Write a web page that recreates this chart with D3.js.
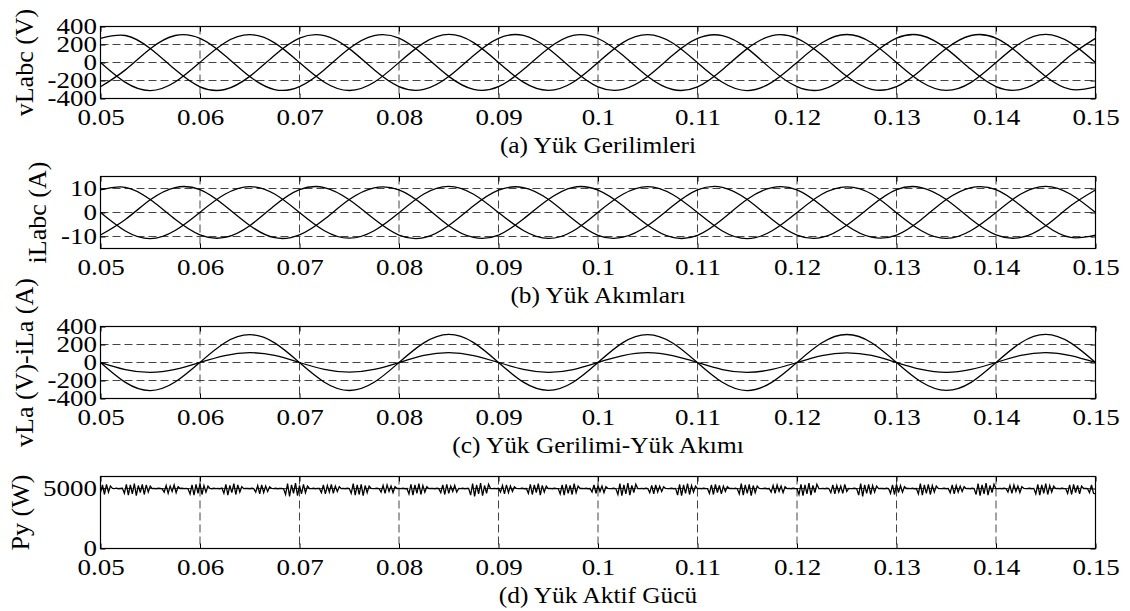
<!DOCTYPE html>
<html>
<head>
<meta charset="utf-8">
<script src="https://d3js.org/d3.v7.min.js"></script>
<style>
  body{ margin:0; background:#fff; }
  text{ font-family:"Liberation Serif","Times New Roman",serif; fill:#000; }
  .grid line{ stroke:#444; stroke-width:1; stroke-dasharray:8,4; }
  .axis path{ display:none; }
  .axis line{ stroke:#000; }
  .box{ fill:none; stroke:#000; stroke-width:1.2; }
  .trace{ fill:none; stroke:#000; stroke-width:1.3; }
</style>
</head>
<body>
<svg id="chart" width="1130" height="611"></svg>
<script>

// sample grids (seconds)
var t0 = 0.05,
    waveStep = 0.0025,
    pyStep = 0.0002;

var xTicks = [0.05,0.06,0.07,0.08,0.09,0.10,0.11,0.12,0.13,0.14,0.15];

// (a) load voltages, V
var vLa = [0,-221,-312,-217,2,220,309,218, -1,-219,-311,-220,0,218,312,221,
           1,-218,-309,-219,0,221,310,217, -2,-220,-312,-218,1,219,311,220,
           0,-217,-310,-221,-1,220,312,218, 0];
var vLb = [-270,-82,153,300,268,79,-156,-301, -268,-80,155,298,270,81,-154,-299,
           -269,-79,156,301,267,80,-155,-300, -271,-81,154,299,269,82,-153,-298,
           -268,-80,155,300,270,79,-156,-299, -270];
var vLc = [268,300,156,-79,-270,-300,-154,81, 270,298,154,-81,-268,-299,-156,79,
           269,301,155,-80,-271,-298,-155,80, 267,299,157,-82,-269,-301,-153,81,
           270,300,154,-79,-268,-299,-155,80, 268];

// (b) load currents, A
var iLa = [0,-7.7,-10.9,-7.5,0.1,7.6,10.8,7.7, 0,-7.6,-10.7,-7.6,-0.1,7.7,10.9,7.6,
           0,-7.5,-10.8,-7.7,0.1,7.6,10.8,7.5, 0,-7.7,-10.9,-7.6,0,7.6,10.7,7.7,
           -0.1,-7.6,-10.8,-7.5,0,7.7,10.9,7.6, 0];
var iLb = [-9.4,-2.9,5.3,10.4,9.5,2.8,-5.4,-10.5, -9.3,-2.8,5.4,10.3,9.4,2.9,-5.5,-10.4,
           -9.4,-2.7,5.4,10.5,9.3,2.8,-5.3,-10.4, -9.5,-2.8,5.5,10.4,9.4,2.7,-5.4,-10.3,
           -9.4,-2.9,5.4,10.4,9.5,2.8,-5.4,-10.4, -9.4];
var iLc = [9.4,10.5,5.4,-2.8,-9.3,-10.4,-5.5,2.9, 9.5,10.4,5.3,-2.7,-9.4,-10.5,-5.4,2.8,
           9.3,10.4,5.5,-2.8,-9.5,-10.3,-5.4,2.7, 9.4,10.5,5.4,-2.9,-9.4,-10.4,-5.3,2.8,
           9.5,10.4,5.4,-2.8,-9.3,-10.4,-5.5,2.8, 9.4];

// (c) phase a voltage with scaled phase a current (as plotted)
var iLaPlot = [0,-78,-110,-76,1,77,109,78, 0,-77,-108,-77,-1,78,110,77,
               0,-76,-109,-78,1,77,109,76, 0,-78,-110,-77,0,77,108,78,
               -1,-77,-109,-76,0,78,110,77, 0];

// (d) load active power, W
var py = [
  4650,5300,4500,5350,4700,5200,5010,4990,5030,4980,5000,5020,4600,5350,4450,5300,4550,5400,4400,5250,
  4650,5350,4500,5300,4700,5200,4990,5010,4980,5020,5000,4970,4700,5250,4600,5200,4750,5300,4650,5150,
  5000,5020,4990,5010,4980,4550,5300,4450,5350,4600,5400,4500,5250,4700,5200,5010,4980,5020,4990,5000,
  4980,5030,4600,5350,4450,5250,4650,5400,4500,5300,4700,5150,4990,5010,5000,4980,5020,4990,4700,5250,
  4550,5300,4650,5200,4750,5150,5010,4990,5020,4980,5000,5010,4970,4500,5400,4350,5300,4600,5450,4400,
  5250,4550,5350,4650,5200,5000,4990,5020,4980,5010,5000,4650,5300,4550,5250,4700,5350,4600,5200,4750,
  5150,4990,5010,4980,5020,5000,4600,5400,4450,5300,4500,5350,4400,5250,4650,5200,5010,4990,5000,5020,
  4980,4700,5250,4600,5300,4750,5200,4650,5150,5000,5010,4990,5020,4980,5000,4550,5350,4450,5300,4600,
  5400,4500,5250,4700,5150,4990,5010,5000,4980,5020,4990,4650,5300,4500,5350,4600,5200,4750,5250,4700,
  5010,4990,5020,4980,5000,5010,4450,5400,4350,5300,4550,5450,4400,5250,4600,5350,5000,4990,5010,4980,
  5020,4700,5250,4550,5300,4650,5200,4750,5150,5010,4990,5000,5020,4980,5000,4600,5350,4500,5300,4650,
  5400,4450,5250,4700,5200,4990,5010,4980,5020,5000,4990,4550,5300,4450,5350,4600,5250,4500,5400,4650,
  5200,5000,5010,4990,5020,4980,5000,4700,5300,4600,5250,4750,5200,4650,5150,5010,4990,5000,5020,4980,
  4500,5400,4400,5300,4550,5450,4450,5250,4650,5350,5000,4990,5010,4980,5020,5000,4650,5250,4550,5300,
  4700,5200,4750,5150,5010,4990,5000,5020,4980,5010,4450,5350,4400,5300,4600,5400,4500,5250,4700,5200,
  4990,5010,4980,5020,5000,4990,4600,5300,4500,5350,4650,5250,4550,5200,4750,5150,5000,5010,4990,5020,
  4980,4550,5400,4450,5300,4600,5350,4400,5250,4650,5200,5010,4990,5000,5020,4980,5000,4700,5250,4600,
  5300,4750,5200,4650,5150,4990,5010,4980,5020,5000,4990,4500,5350,4400,5300,4550,5450,4450,5250,4650,
  5350,5000,4990,5010,4980,5020,5000,4650,5300,4550,5250,4700,5200,4600,5350,4750,5010,4990,5000,5020,
  4980,4450,5400,4350,5300,4600,5350,4500,5250,4700,5200,4990,5010,5000,4980,5020,4990,4600,5300,4500,
  5350,4650,5250,4700,5150,5000,5010,4990,5020,4980,5000,4550,5400,4450,5300,4600,5350,4500,5250,4700,
  5200,5010,4990,5000,5020,4980,5010,4650,5300,4550,5250,4700,5200,4750,5150,4990,5010,4980,5020,5000,
  4500,5400,4400,5300,4550,5450,4450,5250,4650,5350,5000,4990,5010,4980,5020,5000,4700,5250,4600,5300,
  4750,5200,4650,5150,5010,4990,5000,5020,4980,5010,4550,5350,4450,5300,4600,5400,4500,5250,4700,5200,
  4990,5010,4980,5020,5000,4990,4600,5300,4500,5350,4650,5250,4550,5200,5000,5010,4990,4650,5300,4600,
  4550];

var panels = [
  {top:26.5,  yDomain:[-400,400], yTicks:[-400,-200,0,200,400], ylabel:"vLabc (V)",       labelX:33,
   series:[vLa,vLb,vLc], step:waveStep, smooth:true, title:"(a) Yük Gerilimleri"},
  {top:176.5, yDomain:[-15,15],   yTicks:[-10,0,10],              ylabel:"iLabc (A)",       labelX:46,
   series:[iLa,iLb,iLc], step:waveStep, smooth:true, title:"(b) Yük Akımları"},
  {top:326.5, yDomain:[-400,400], yTicks:[-400,-200,0,200,400], ylabel:"vLa (V)-iLa (A)", labelX:33,
   series:[vLa,iLaPlot], step:waveStep, smooth:true, title:"(c) Yük Gerilimi-Yük Akımı"},
  {top:476.5, yDomain:[0,6000],   yTicks:[0,5000],                ylabel:"Py (W)",          labelX:29,
   series:[py], step:pyStep, smooth:false, title:"(d) Yük Aktif Gücü"}
];

var left = 100.5, right = 1095.5, plotH = 72;

var svg = d3.select("#chart");

var x = d3.scaleLinear().domain([0.05,0.15]).range([left,right]);

function fmt(d){ return String(+d.toFixed(2)); }

panels.forEach(function(p, n){
  var y = d3.scaleLinear().domain(p.yDomain).range([p.top+plotH, p.top]);
  var g = svg.append("g");

  // grid
  var grid = g.append("g").attr("class","grid");
  grid.selectAll(".gx")
      .data(xTicks.slice(1,-1))
    .enter().append("line")
      .attr("x1", function(d){ return x(d); }).attr("x2", function(d){ return x(d); })
      .attr("y1", p.top).attr("y2", p.top+plotH);
  grid.selectAll(".gy")
      .data(p.yTicks.filter(function(d){ return d>p.yDomain[0] && d<p.yDomain[1]; }))
    .enter().append("line")
      .attr("x1", left).attr("x2", right)
      .attr("y1", function(d){ return y(d); }).attr("y2", function(d){ return y(d); });

  // traces
  g.append("clipPath").attr("id","clip"+n)
    .append("rect").attr("x",left).attr("y",p.top).attr("width",right-left).attr("height",plotH);

  var line = d3.line()
      .x(function(d,i){ return x(t0 + i*p.step); })
      .y(function(d){ return y(d); })
      .curve(p.smooth ? d3.curveNatural : d3.curveLinear);

  g.append("g").attr("clip-path","url(#clip"+n+")")
    .selectAll("path")
      .data(p.series)
    .enter().append("path")
      .attr("class","trace")
      .attr("stroke-width", p.smooth ? 1.3 : 0.9)
      .attr("d", line);

  // axes
  var xa = g.append("g").attr("class","axis")
      .attr("transform","translate(0,"+(p.top+plotH)+")")
      .call(d3.axisBottom(x).tickValues(xTicks).tickSize(-5).tickPadding(11).tickFormat(fmt));
  xa.selectAll("text").style("font-size","22.5px").attr("transform","scale(1.2,1)");

  g.append("g").attr("class","axis")
      .attr("transform","translate(0,"+p.top+")")
      .call(d3.axisTop(x).tickValues(xTicks).tickSize(-5).tickFormat(""));

  var ya = g.append("g").attr("class","axis")
      .attr("transform","translate("+left+",0)")
      .call(d3.axisLeft(y).tickValues(p.yTicks).tickSize(-5).tickPadding(3).tickFormat(function(d){ return String(d); }));
  ya.selectAll("text").style("font-size","22.5px").attr("transform","scale(1.2,1)");

  g.append("g").attr("class","axis")
      .attr("transform","translate("+right+",0)")
      .call(d3.axisRight(y).tickValues(p.yTicks).tickSize(-5).tickFormat(""));

  g.append("rect").attr("class","box")
      .attr("x",left).attr("y",p.top).attr("width",right-left).attr("height",plotH);

  // labels
  g.append("text")
      .attr("transform","translate("+p.labelX+","+(p.top+plotH/2)+") rotate(-90)")
      .attr("text-anchor","middle")
      .style("font-size","26px")
      .text(p.ylabel);

  g.append("text")
      .attr("transform","translate("+((left+right)/2)+","+(p.top+plotH+54)+") scale(1.08,1)")
      .attr("text-anchor","middle")
      .style("font-size","23.5px")
      .text(p.title);
});

</script>
</body>
</html>
